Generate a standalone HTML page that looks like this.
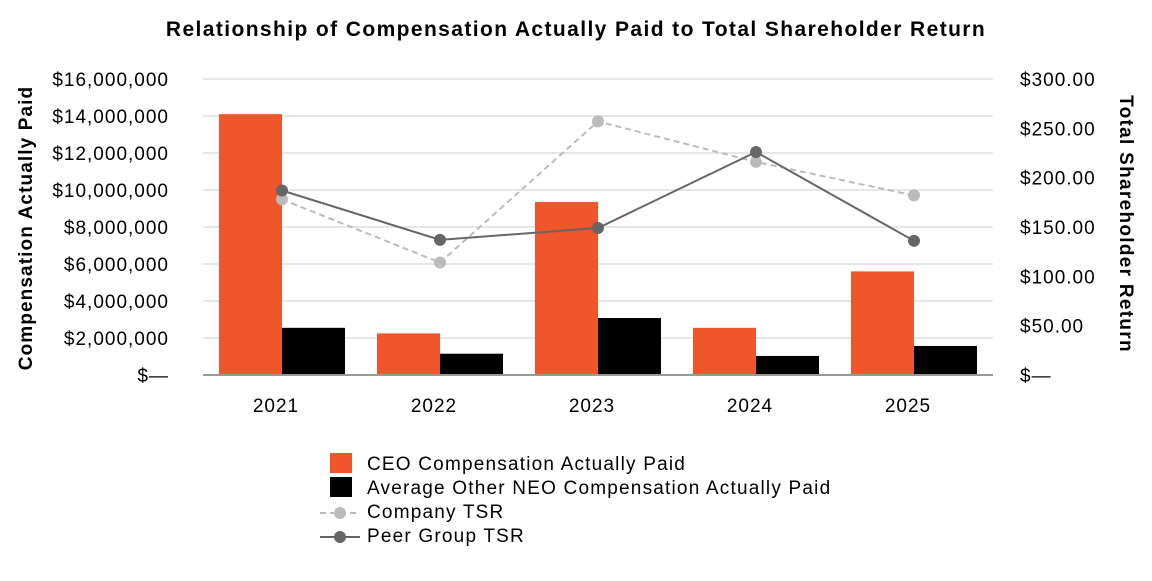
<!DOCTYPE html>
<html><head><meta charset="utf-8"><style>
body{margin:0;background:#fff;width:1152px;height:576px;overflow:hidden;font-family:"Liberation Sans",sans-serif}
</style></head><body>
<svg width="1152" height="576" xmlns="http://www.w3.org/2000/svg" font-family="Liberation Sans, sans-serif">
<text x="576" y="36" text-anchor="middle" font-size="21" font-weight="bold" letter-spacing="1.4">Relationship of Compensation Actually Paid to Total Shareholder Return</text>
<g id="grid"></g><g id="bars"></g><g id="lines"></g><g id="axes"></g>
<text transform="translate(32,228) rotate(-90)" text-anchor="middle" font-size="19" font-weight="bold" letter-spacing="1.1">Compensation Actually Paid</text>
<text transform="translate(1120,224) rotate(90)" text-anchor="middle" font-size="19" font-weight="bold" letter-spacing="1.3">Total Shareholder Return</text>
<g font-size="19" letter-spacing="1.2">
<rect x="330" y="453" width="22" height="20" fill="#f0562c"/>
<text x="367" y="470">CEO Compensation Actually Paid</text>
<rect x="330" y="477" width="22" height="20" fill="#000"/>
<text x="367" y="494">Average Other NEO Compensation Actually Paid</text>
<line x1="320" y1="513" x2="360" y2="513" stroke="#bbb" stroke-width="2" stroke-dasharray="6,4"/>
<circle cx="340" cy="513" r="6" fill="#bbb"/>
<text x="367" y="518">Company TSR</text>
<line x1="320" y1="537" x2="360" y2="537" stroke="#666" stroke-width="2"/>
<circle cx="340" cy="537" r="6" fill="#666"/>
<text x="367" y="542">Peer Group TSR</text>
</g>
</svg>
<script>
const categories=["2021","2022","2023","2024","2025"];
const ceoValues=[14100000,2250000,9350000,2550000,5600000];
const neoValues=[2550000,1150000,3080000,1030000,1570000];
const companyTsr=[178,114,257,216,182];
const peerTsr=[187,137,149,226,136];
const leftTicks=[0,2000000,4000000,6000000,8000000,10000000,12000000,14000000,16000000];
const rightTicks=[0,50,100,150,200,250,300];
const NS="http://www.w3.org/2000/svg";
const X0=203,X1=993,Y0=375,Y1=79;
const bw=(X1-X0)/categories.length;
const yL=v=>Y0-(v/16000000)*(Y0-Y1);
const yR=v=>Y0-(v/300)*(Y0-Y1);
const xc=i=>X0+bw*(i+0.5);
function mk(tag,attrs,parent,text){const e=document.createElementNS(NS,tag);for(const k in attrs)e.setAttribute(k,attrs[k]);if(text!==undefined)e.textContent=text;document.getElementById(parent).appendChild(e);return e;}
const fmt=v=>v===0?"$\u2014":"$"+v.toLocaleString("en-US");
leftTicks.forEach(v=>{
 if(v>0){const g=mk("line",{x1:X0,x2:X1,y1:yL(v),y2:yL(v),stroke:"#e6e6e6","stroke-width":2},"grid");
 
 }
 const t=mk("text",{x:169,y:yL(v)+7,"text-anchor":"end","font-size":19,"letter-spacing":1},"axes",fmt(v));
 
 
});
rightTicks.forEach(v=>{
 const t=mk("text",{x:1020,y:yR(v)+7,"font-size":19,"letter-spacing":1},"axes",v===0?"$\u2014":"$"+v.toFixed(2));
 
 
});
categories.forEach((c,i)=>{
 const a=mk("rect",{x:xc(i)-63,y:yL(ceoValues[i]),width:63,height:Y0-yL(ceoValues[i]),fill:"#f0562c"},"bars");
 
 
 const b=mk("rect",{x:xc(i),y:yL(neoValues[i]),width:63,height:Y0-yL(neoValues[i]),fill:"#000"},"bars");
 
 
 const t=mk("text",{x:xc(i)-6,y:412,"text-anchor":"middle","font-size":19,"letter-spacing":1},"axes",c);
 
 
});
const ax=mk("line",{x1:X0,x2:X1,y1:Y0,y2:Y0,stroke:"#999","stroke-width":2},"axes");


function series(vals,color,dash,name){
 const p=mk("polyline",{points:vals.map((v,i)=>xc(i)+","+yR(v)).join(" "),fill:"none",stroke:color,"stroke-width":2,"stroke-dasharray":dash},"lines");
 
 
 vals.forEach((v,i)=>{const c=mk("circle",{cx:xc(i),cy:yR(v),r:6,fill:color},"lines");
 
 });
}
series(companyTsr,"#bbb","6,4","company-tsr");
series(peerTsr,"#666","none","peer-tsr");
</script>
</body></html>
